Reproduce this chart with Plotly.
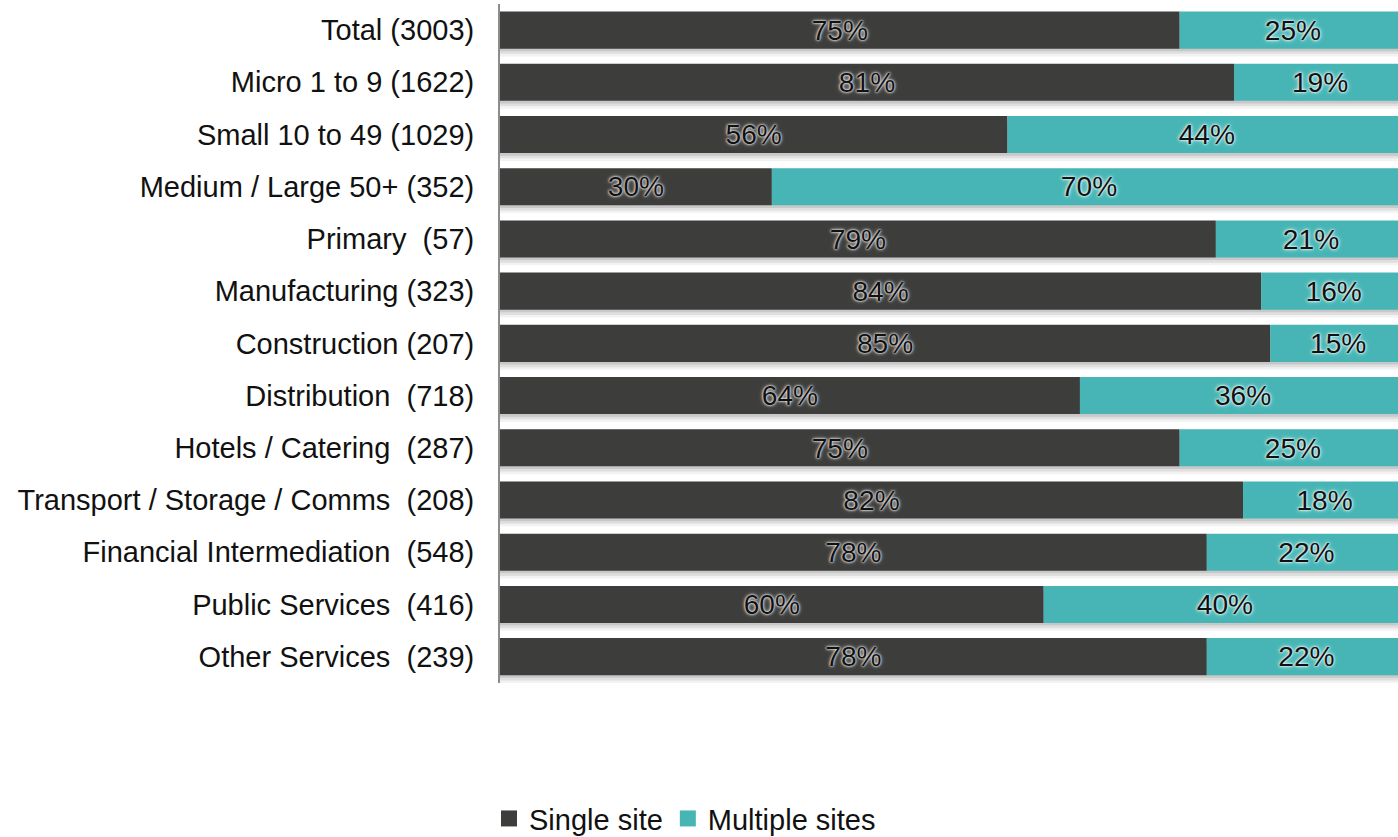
import plotly.graph_objects as go

categories = [
    "Total (3003)",
    "Micro 1 to 9 (1622)",
    "Small 10 to 49 (1029)",
    "Medium / Large 50+ (352)",
    "Primary  (57)",
    "Manufacturing (323)",
    "Construction (207)",
    "Distribution  (718)",
    "Hotels / Catering  (287)",
    "Transport / Storage / Comms  (208)",
    "Financial Intermediation  (548)",
    "Public Services  (416)",
    "Other Services  (239)",
]
single_site = [75, 81, 56, 30, 79, 84, 85, 64, 75, 82, 78, 60, 78]
multiple_sites = [25, 19, 44, 70, 21, 16, 15, 36, 25, 18, 22, 40, 22]
series_names = ["Single site", "Multiple sites"]

DARK = "#3d3d3c"
TEAL = "#47b5b5"
FONT = "Liberation Sans, Arial, sans-serif"
SIZE = 29
BAR_W = 0.71

fig = go.Figure()

# soft drop shadow under each full bar
for shift, alpha in [(0.05, 0.10), (0.10, 0.08), (0.15, 0.05)]:
    fig.add_trace(go.Bar(
        y=categories, x=[s + m for s, m in zip(single_site, multiple_sites)],
        base=0, orientation="h", width=BAR_W, offset=-BAR_W / 2 + shift,
        marker=dict(color=f"rgba(0,0,0,{alpha})", line_width=0),
        showlegend=False, hoverinfo="skip",
    ))

fig.add_trace(go.Bar(
    name=series_names[0], y=categories, x=single_site, base=0,
    orientation="h", width=BAR_W, offset=-BAR_W / 2,
    marker=dict(color=DARK, line_width=0), showlegend=False,
    text=[f"{v}%" for v in single_site], textposition="inside",
    insidetextanchor="middle",
    textfont=dict(family=FONT, size=SIZE, color="#111111",
                  shadow="0px 0px 2px #ffffff, 0px 0px 3px #eeeeee, 0px 0px 5px #999999"),
))
fig.add_trace(go.Bar(
    name=series_names[1], y=categories, x=multiple_sites, base=single_site,
    orientation="h", width=BAR_W, offset=-BAR_W / 2,
    marker=dict(color=TEAL, line_width=0), showlegend=False,
    text=[f"{v}%" for v in multiple_sites], textposition="inside",
    insidetextanchor="middle",
    textfont=dict(family=FONT, size=SIZE, color="#111111",
                  shadow="0px 0px 2px #ffffff, 0px 0px 3px #e0f6f6, 0px 0px 5px #bfeaea"),
))

# legend keys with square swatches
for name, color in zip(series_names, [DARK, TEAL]):
    fig.add_trace(go.Scatter(
        x=[None], y=[None], mode="markers", name=name,
        marker=dict(symbol="square", size=16, color=color),
        hoverinfo="skip",
    ))

fig.update_layout(
    barmode="overlay",
    width=1398, height=837,
    margin=dict(l=500, r=0, t=4, b=154),
    paper_bgcolor="white", plot_bgcolor="white",
    font=dict(family=FONT, size=SIZE, color="#111111"),
    # the 100% end of each bar runs just past the right edge of the figure
    xaxis=dict(range=[0, 99.1], visible=False, fixedrange=True),
    yaxis=dict(
        autorange="reversed", showgrid=False, showline=True,
        linecolor="#8c8c8c", linewidth=2, ticks="", ticklabelstandoff=18,
        tickfont=dict(family=FONT, size=SIZE, color="#111111"),
    ),
    legend=dict(
        orientation="h", xref="container", yref="container",
        x=0.49, y=0.022, xanchor="center", yanchor="middle",
        font=dict(family=FONT, size=SIZE, color="#111111"),
        traceorder="normal", itemwidth=30, tracegroupgap=0,
    ),
    showlegend=True,
)

fig.write_html("out.html")
